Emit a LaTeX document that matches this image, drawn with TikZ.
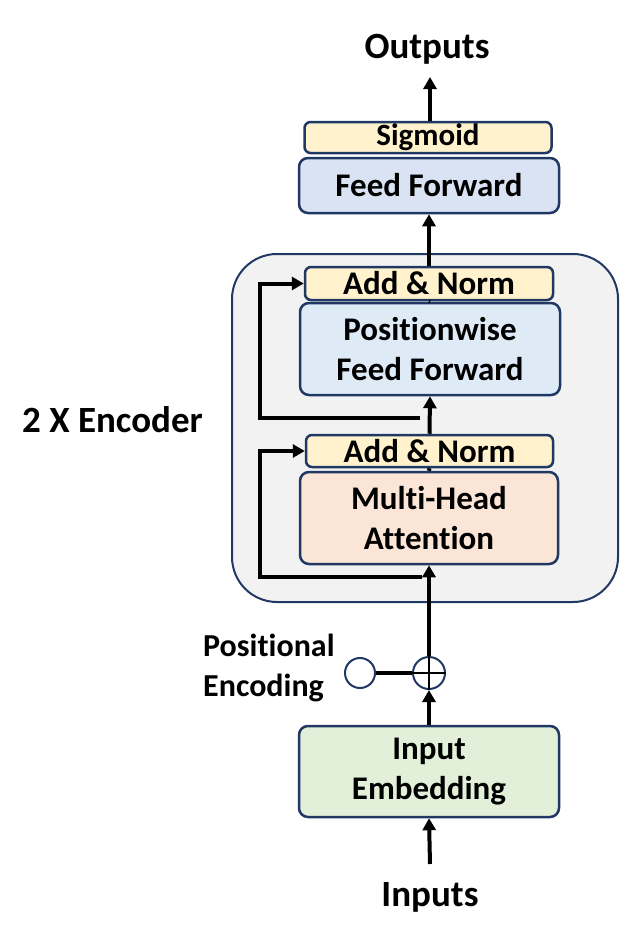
\documentclass[tikz,border=0pt]{standalone}
\usepackage{fontspec}
\setmainfont{Carlito}[Ligatures=CommonOff]
\usetikzlibrary{arrows.meta}
\definecolor{navy}{HTML}{1F3864}
\definecolor{encgray}{HTML}{F2F2F2}
\definecolor{yel}{HTML}{FFF2CC}
\definecolor{ffblue}{HTML}{DAE3F3}
\definecolor{pffblue}{HTML}{DEEBF7}
\definecolor{mhaor}{HTML}{FBE5D6}
\definecolor{iegreen}{HTML}{E2F0D9}
\begin{document}
\begin{tikzpicture}[x=1pt,y=-1pt,font=\bfseries,
  box/.style={draw=navy, line width=2.5pt, rounded corners=9pt, inner sep=0pt, align=center, font=\bfseries\fontsize{33}{40}\selectfont},
  thin box/.style={box, rounded corners=6pt},
  arr/.style={line width=4pt, -{Triangle[length=12pt,width=13pt]}},
  ln/.style={line width=4pt},
  lbl/.style={font=\bfseries\fontsize{37}{40}\selectfont, inner sep=0pt}]
\useasboundingbox (0,0) rectangle (619,942);
\node[draw=navy, line width=2pt, fill=encgray, rounded corners=45pt, minimum width=386pt, minimum height=348pt] (enc) at (425,428) {};

\node[lbl] (out) at (427,49) {Outputs};
\coordinate (outtip) at (430,77);
\node[thin box, fill=yel, minimum width=247pt, minimum height=31pt, font=\bfseries\fontsize{31}{32}\selectfont] (sig) at (428,137.5) {Sigmoid};
\node[box, fill=ffblue, minimum width=260pt, minimum height=55pt] (ff) at (429,185.5) {Feed Forward};

\node[thin box, fill=yel, minimum width=248pt, minimum height=33pt] (an2) at (429,283.5) {Add \& Norm};
\node[box, fill=pffblue, minimum width=260pt, minimum height=92pt] (pff) at (430,349) {Positionwise\\Feed Forward};
\node[thin box, fill=yel, minimum width=247pt, minimum height=32pt] (an1) at (429.5,451) {Add \& Norm};
\node[box, fill=mhaor, minimum width=258pt, minimum height=92pt] (mha) at (429,518) {Multi-Head\\Attention};

\node[lbl, anchor=west] (encl) at (22,420) {2 X Encoder};

\node[circle, draw=navy, line width=2pt, fill=white, minimum size=30pt, inner sep=0pt] (pe) at (360,673) {};
\node[circle, draw=navy, line width=2pt, fill=white, minimum size=32pt, inner sep=0pt] (plus) at (429,673) {};
\draw[line width=2.2pt] (plus.north) -- (plus.south) (plus.west) -- (plus.east);
\node[anchor=west, align=left, inner sep=0pt, font=\bfseries\fontsize{32}{40}\selectfont] (pel) at (203,668) {Positional\\Encoding};

\node[box, fill=iegreen, minimum width=260pt, minimum height=91pt] (ie) at (429,771.5) {Input\\Embedding};
\node[lbl] (in) at (430,897) {Inputs};
\coordinate (intail) at (430,864);

% connectors
\draw[arr] (sig.north -| outtip) -- (outtip);
\draw[arr] (an2.north) -- (ff.south);
\draw[ln] (pff.north) -- (an2.south);
\draw[arr] (an1.north) -- (pff.south);
\draw[ln] (mha.north) -- (an1.south);
\draw[arr] (plus.north) -- (mha.south);
\draw[ln] (pe.east) -- (plus.west);
\draw[arr] (ie.north) -- (plus.south);
\draw[arr] (intail) -- (ie.south);

% residuals
\coordinate (rx) at (260,0);
\coordinate (r1) at (422,577);
\coordinate (r2) at (420,418);
\draw[arr] (r1) -- (r1 -| rx) |- (an1.west);
\draw[arr] (r2) -- (r2 -| rx) |- (an2.west);
\end{tikzpicture}
\end{document}
